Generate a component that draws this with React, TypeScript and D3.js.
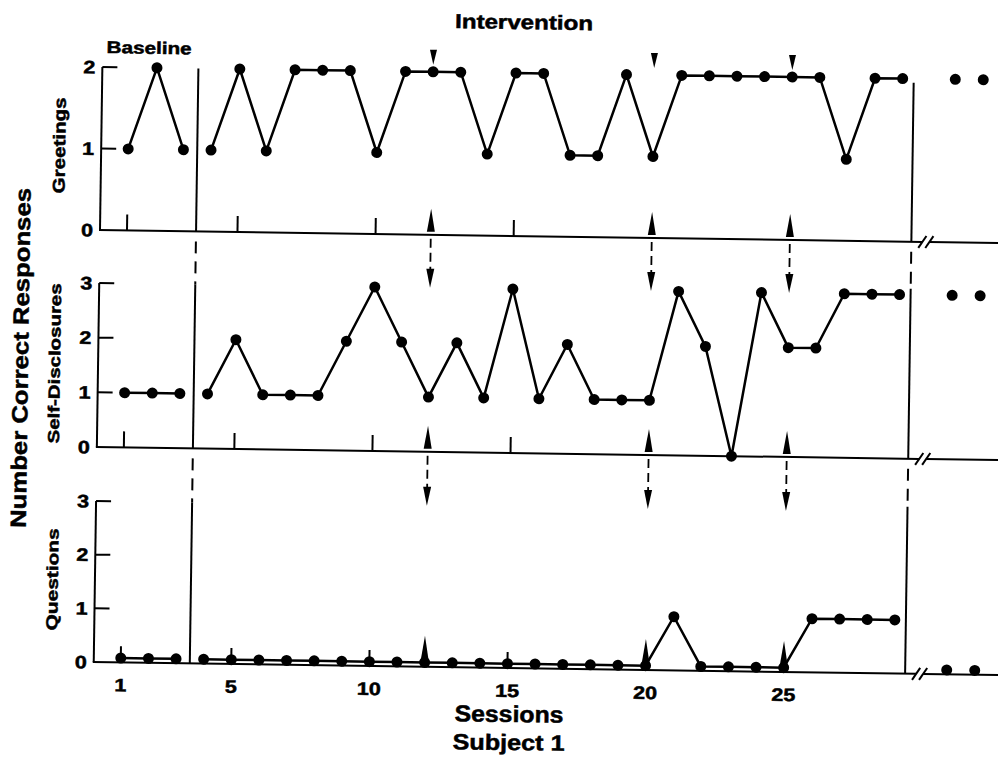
import React from 'react';
import * as d3 from 'd3';

// ---- data ----
const sessions = [1, 2, 3, 4, 5, 6, 7, 8, 9, 10, 11, 12, 13, 14, 15, 16, 17, 18, 19, 20, 21, 22, 23, 24, 25, 26, 27, 28, 29];
const greetings = [1, 2, 1, 1, 2, 1, 2, 2, 2, 1, 2, 2, 2, 1, 2, 2, 1, 1, 2, 1, 2, 2, 2, 2, 2, 2, 1, 2, 2];
const selfDisclosures = [1, 1, 1, 1, 2, 1, 1, 1, 2, 3, 2, 1, 2, 1, 3, 1, 2, 1, 1, 1, 3, 2, 0, 3, 2, 2, 3, 3, 3];
const questions = [0.08, 0.08, 0.08, 0.08, 0.08, 0.08, 0.08, 0.08, 0.08, 0.08, 0.08, 0.08, 0.08, 0.08, 0.08, 0.08, 0.08, 0.08, 0.08, 0.08, 1, 0.08, 0.08, 0.08, 0.08, 1, 1, 1, 1];
const followUps = [1, 2];
const greetingsFollowUp = [2, 2];
const selfDisclosuresFollowUp = [3, 3];
const questionsFollowUp = [0.08, 0.08];
const panelNames = ['Greetings', 'Self-Disclosures', 'Questions'];
const panelMax = [2, 3, 3];
const panelTicks = [[0, 1, 2], [0, 1, 2, 3], [0, 1, 2, 3]];
const xTickLabels = [1, 5, 10, 15, 20, 25];
const minorTickSessions = [1, 5, 10, 15];
const probeSessions = [12, 20, 25];
const lastBaselineSession = 3;

const seriesValues = [greetings, selfDisclosures, questions];
const followUpValues = [greetingsFollowUp, selfDisclosuresFollowUp, questionsFollowUp];

// ---- layout ----
const W = 998;
const H = 761;
const AXIS_X = 100;
const panelTop = [67, 283, 501];
const panelBottom = [230, 447, 662];
const FONT = '"Liberation Sans", Arial, Helvetica, sans-serif';

const x = d3.scaleLinear().domain([1, 29]).range([127, 900.4]);
const fx = d3.scaleLinear().domain([1, 2]).range([953, 981]);
const phaseX = x(lastBaselineSession + 0.5);
const endX = x(29.4);
const breakX = endX + 14;

const lw = 2;

function HText({ x0, y0, size, len, anchor = 'start', children }: any) {
  return (
    <text x={x0} y={y0} fontSize={size} fontWeight="bold" fontFamily={FONT} textAnchor={anchor}
      textLength={len} lengthAdjust="spacingAndGlyphs" fill="#000" stroke="#000" strokeWidth={0.5}>{children}</text>
  );
}

function VText({ x0, y0, size, len, children }: any) {
  return (
    <text transform={`translate(${x0},${y0}) rotate(-90)`} fontSize={size} fontWeight="bold" fontFamily={FONT}
      textAnchor="middle" textLength={len} lengthAdjust="spacingAndGlyphs" fill="#000" stroke="#000" strokeWidth={0.5}>{children}</text>
  );
}

function Panel({ i }: { i: number }) {
  const y0 = panelBottom[i];
  const yTop = panelTop[i];
  const y = d3.scaleLinear().domain([0, panelMax[i]]).range([y0, yTop]);
  const vals = seriesValues[i];
  const pts = sessions.map((s, j) => [x(s), y(vals[j])] as [number, number]);
  const line = d3.line();
  const basePts = pts.filter((_, j) => sessions[j] <= lastBaselineSession);
  const intPts = pts.filter((_, j) => sessions[j] > lastBaselineSession);
  const next = i < 2 ? panelTop[i + 1] : null;
  return (
    <g>
      {/* y axis */}
      <line x1={AXIS_X} y1={yTop} x2={AXIS_X} y2={y0} stroke="#000" strokeWidth={lw} />
      {panelTicks[i].filter(t => t > 0).map(t => (
        <line key={'yt' + t} x1={AXIS_X} x2={AXIS_X + 15} y1={y(t)} y2={y(t)} stroke="#000" strokeWidth={lw} />
      ))}
      {panelTicks[i].map(t => (
        <HText key={'yl' + t} x0={AXIS_X - 7} y0={y(t) + 6.5} size={18} len={12} anchor="end">{t}</HText>
      ))}
      {/* x axis with break */}
      <line x1={AXIS_X - 1} x2={breakX - 3} y1={y0} y2={y0} stroke="#000" strokeWidth={lw} />
      <line x1={breakX + 4} x2={W + 20} y1={y0} y2={y0} stroke="#000" strokeWidth={lw} />
      {[breakX - 3, breakX + 4].map((bx, k) => (
        <line key={'br' + k} x1={bx - 4} y1={y0 + 6} x2={bx + 4} y2={y0 - 6} stroke="#000" strokeWidth={lw} />
      ))}
      {minorTickSessions.map(s => (
        <line key={'xt' + s} x1={x(s)} x2={x(s)} y1={y0} y2={y0 - 16} stroke="#000" strokeWidth={lw} />
      ))}
      {/* phase and end lines */}
      <line x1={phaseX} x2={phaseX} y1={yTop} y2={y0} stroke="#000" strokeWidth={lw} />
      <line x1={endX} x2={endX} y1={i === 0 ? yTop + 4 : yTop - 6} y2={y0} stroke="#000" strokeWidth={lw} />
      {next !== null && (
        <g>
          <line x1={phaseX} x2={phaseX} y1={y0 + 10} y2={next} stroke="#000" strokeWidth={lw} strokeDasharray="12,8" />
          <line x1={endX} x2={endX} y1={y0 + 10} y2={next - 6} stroke="#000" strokeWidth={lw} strokeDasharray="12,8" />
        </g>
      )}
      {/* probe arrows */}
      {probeSessions.map(s => {
        const px = x(s);
        return (
          <g key={'pr' + s}>
            {i === 0 && (
              <polygon points={`${px - 3.5},45 ${px + 3.5},45 ${px},60`} fill="#000" />
            )}
            {next !== null ? (
              <g>
                <polygon points={`${px - 4},${y0 - 3} ${px + 4},${y0 - 3} ${px},${y0 - 26}`} fill="#000" />
                <line x1={px} x2={px} y1={y0 + 4} y2={next - 16} stroke="#000" strokeWidth={1.8} strokeDasharray="9,5" />
                <polygon points={`${px - 4},${next - 19} ${px + 4},${next - 19} ${px},${next}`} fill="#000" />
              </g>
            ) : (
              <polygon points={`${px - 4.5},${y0 - 3} ${px + 4.5},${y0 - 3} ${px},${y0 - 31}`} fill="#000" />
            )}
          </g>
        );
      })}
      {/* data */}
      <path d={line(basePts) || ''} fill="none" stroke="#000" strokeWidth={2.5} />
      <path d={line(intPts) || ''} fill="none" stroke="#000" strokeWidth={2.5} />
      {pts.map((p, j) => (
        <circle key={'d' + j} cx={p[0]} cy={p[1]} r={5.5} fill="#000" />
      ))}
      {followUps.map((f, j) => (
        <circle key={'f' + j} cx={fx(f)} cy={y(followUpValues[i][j])} r={5.5} fill="#000" />
      ))}
    </g>
  );
}

export default function App() {
  const yQ = panelBottom[2];
  return (
    <svg width={W} height={H} style={{ position: 'absolute', left: 0, top: 0, background: '#fff' }}>
      <rect x={0} y={0} width={W} height={H} fill="#fff" />
      <g transform={`rotate(0.83, ${AXIS_X}, ${panelBottom[0]})`}>
        <HText x0={452} y0={23} size={20} len={138}>Intervention</HText>
        <HText x0={104} y0={53} size={17} len={85}>Baseline</HText>
        <VText x0={30} y0={359} size={22} len={340}>Number Correct Responses</VText>
        <VText x0={64} y0={146} size={17} len={96}>Greetings</VText>
        <VText x0={62} y0={364} size={16} len={160}>Self-Disclosures</VText>
        <VText x0={63} y0={580} size={16} len={102}>Questions</VText>
        {[0, 1, 2].map(i => <Panel key={i} i={i} />)}
        {xTickLabels.map(s => (
          <HText key={'xl' + s} x0={x(s)} y0={yQ + 29} size={18} len={s < 10 ? 12 : 24} anchor="middle">{s}</HText>
        ))}
        <HText x0={516} y0={716} size={23} len={109} anchor="middle">Sessions</HText>
        <HText x0={516} y0={744} size={22} len={112} anchor="middle">Subject  1</HText>
      </g>
    </svg>
  );
}
